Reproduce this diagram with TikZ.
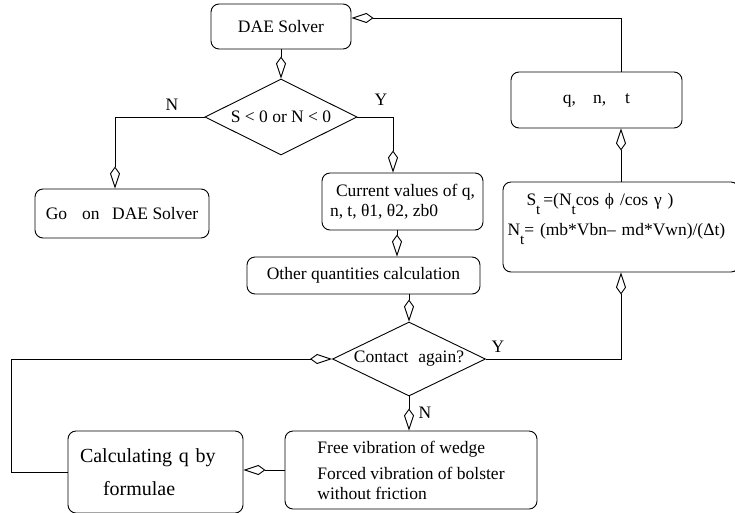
\documentclass[tikz,border=0pt]{standalone}
\usepackage{fontspec}
\setmainfont{Liberation Serif}
\usetikzlibrary{shapes.geometric,arrows.meta}
\newcommand\sub[1]{\raisebox{-9pt}{\fontsize{15}{15}\selectfont #1}}
\tikzset{
  box/.style={draw, rounded corners=8pt, line width=0.9pt, inner sep=0pt},
  cond/.style={draw, diamond, line width=0.9pt, inner sep=0pt},
  mk/.style={-{Kite[open,length=22pt,width=10pt,inset=7pt]}, line width=0.9pt}
}
\begin{document}
\begin{tikzpicture}[x=1pt,y=-1pt,font=\fontsize{17.5}{20}\selectfont]
  \useasboundingbox (0,0) rectangle (735,512);
  \clip (0,0) rectangle (735,512);
  % boxes
  \node[box,minimum width=140pt,minimum height=45pt] (dae) at (281,26.5) {DAE Solver};
  \node[cond,minimum width=152pt,minimum height=76pt] (cond) at (281,117) {\makebox[0pt]{S < 0 or N < 0}};
  \node[box,minimum width=174pt,minimum height=49pt] (go) at (122,213.5) {Go\hspace{15pt}on\hspace{12.5pt}DAE Solver};
  \node[box,minimum width=161pt,minimum height=57pt,align=left] (cur) at (402.5,201.5) {\hspace{6pt}Current values of q,\\n, t, θ1, θ2, zb0};
  \node[box,minimum width=233pt,minimum height=37pt] (oth) at (363.5,275.5) {Other quantities calculation};
  \node[cond,minimum width=153pt,minimum height=74pt] (con) at (409,359) {\makebox[0pt]{Contact\hspace{10pt}again?}};
  \node[box,minimum width=252pt,minimum height=78pt,align=left] (free) at (411,470) {Free vibration of wedge\\[6pt]Forced vibration of bolster\\without friction};
  \node[box,minimum width=175pt,minimum height=82pt,text width=151pt,align=left,font=\fontsize{20}{33}\selectfont] (calc) at (155.5,472) {Calculating q by\\\hspace{23pt}formulae};
  \node[box,minimum width=236pt,minimum height=90pt,text width=227pt,align=left] (st) at (621,227) {\hspace{19pt}S\sub{t}\,=(N\sub{t}cos ϕ /cos γ )\\[8pt]N\sub{t}= (mb*Vbn– md*Vwn)/(Δt)\rule[-25pt]{0pt}{25pt}};
  \node[box,minimum width=171pt,minimum height=56pt] (q) at (596.5,100) {q,\hspace{17pt}n,\hspace{19pt}t};
  % labels
  \foreach \n/\x/\y/\t in {lcondN/172/105/N, lcondY/381/100/Y, lconY/498/347/Y, lconN/425/413/N}
    \node (\n) at (\x,\y) {\t};
  % connectors
  \draw[mk] (dae.south) -- (cond.north);
  \draw[mk] (cond.west) -| ([xshift=-7pt]go.north);
  \draw[mk] (cond.east) -| ([xshift=-9.5pt]cur.north);
  \draw[mk] ([xshift=-5.5pt]cur.south) -- ([xshift=-5.5pt]cur.south |- oth.north);
  \draw[mk] (oth.south -| con.north) -- (con.north);
  \draw[mk] (con.south) -- (con.south |- free.north);
  \draw[mk] (con.east) -| (st.south);
  \draw[mk] (st.north) -- (q.south -| st.north);
  \draw[mk] (q.north -| st.north) |- ([yshift=8.5pt]dae.east);
  \draw[mk] (free.west) -- (free.west -| calc.east);
  \draw[mk] (calc.west) -- ++(-56,0) |- (con.west);
\end{tikzpicture}
\end{document}
